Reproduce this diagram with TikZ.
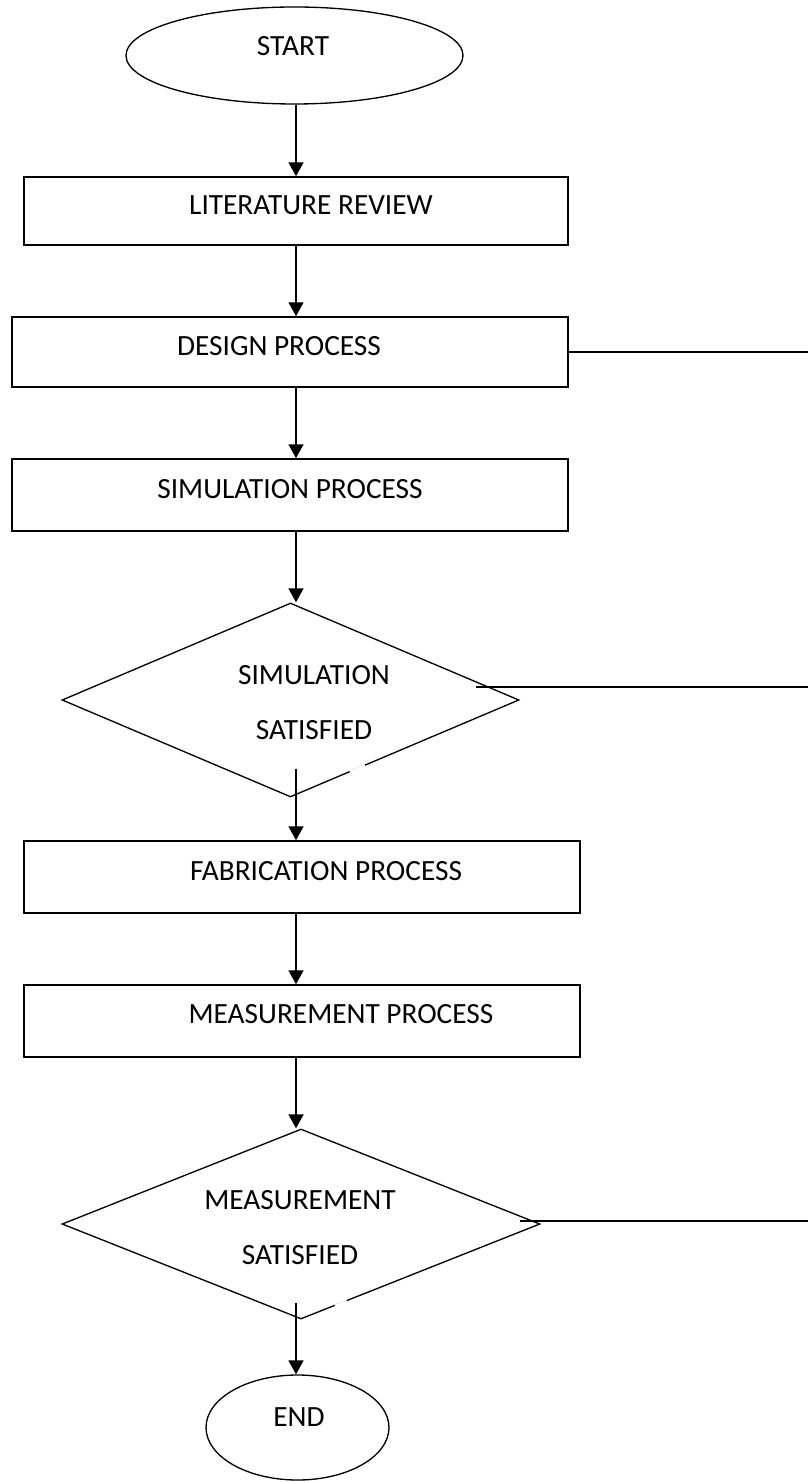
\documentclass[tikz,border=0pt]{standalone}
\usepackage{fontspec}
\setmainfont{Carlito}
\usetikzlibrary{shapes.geometric,arrows.meta,calc}
\newcommand{\px}{0.375pt}
\tikzset{
	flowbox/.style={draw, line width=0.6pt, inner sep=0pt},
	flowend/.style={draw, ellipse, line width=0.5pt, inner sep=0pt},
	flowtest/.style={draw, diamond, line width=0.5pt, inner sep=0pt},
	flowarrow/.style={line width=0.6pt, -{Triangle[length=5.2pt,width=5.6pt]}},
	flowline/.style={line width=0.6pt}
}

\begin{document}
\begin{tikzpicture}[x=\px,y=-\px,font=\fontsize{11}{13.2}\selectfont]
	\useasboundingbox (0,0) rectangle (808,1482);
	\coordinate (spine) at (296,0);
	\coordinate (rim) at (808,0);

	\node[flowend, minimum width=337*\px, minimum height=97*\px,
		label={[xshift=-1.5*\px, yshift=9.5*\px]center:START}] (start) at (294.5,55.5) {};
	\node[flowbox, minimum width=544*\px, minimum height=68*\px,
		label={[xshift=15*\px, yshift=6*\px]center:LITERATURE REVIEW}] (lr) at (296,211) {};
	\node[flowbox, minimum width=556*\px, minimum height=70*\px,
		label={[xshift=-11*\px, yshift=6*\px]center:DESIGN PROCESS}] (design) at (290,352) {};
	\node[flowbox, minimum width=556*\px, minimum height=72*\px,
		label={[yshift=6*\px]center:SIMULATION PROCESS}] (sim) at (290,495) {};
	\node[flowtest, minimum width=457*\px, minimum height=194*\px,
		label={[align=center, xshift=23.5*\px, yshift=-2.5*\px]center:{SIMULATION\\[7.4pt]SATISFIED}}] (simok) at (290.5,700) {};
	\node[flowbox, minimum width=556*\px, minimum height=72*\px,
		label={[xshift=24*\px, yshift=5.5*\px]center:FABRICATION PROCESS}] (fab) at (302,877) {};
	\node[flowbox, minimum width=556*\px, minimum height=72*\px,
		label={[xshift=39*\px, yshift=7*\px]center:MEASUREMENT PROCESS}] (meas) at (302,1021) {};
	\node[flowtest, minimum width=478*\px, minimum height=190*\px,
		label={[align=center, xshift=-1*\px, yshift=-4*\px]center:{MEASUREMENT\\[7.4pt]SATISFIED}}] (measok) at (301,1224) {};
	\node[flowend, minimum width=183*\px, minimum height=105*\px,
		label={[xshift=1.5*\px, yshift=10*\px]center:END}] (end) at (297.5,1427.5) {};

	% small breaks in the lower right edges
	\draw[white, line width=1.2pt] ($(simok.south)!0.26!(simok.east)$) -- ($(simok.south)!0.326!(simok.east)$);
	\draw[white, line width=1.2pt] ($(measok.south)!0.142!(measok.east)$) -- ($(measok.south)!0.192!(measok.east)$);

	\draw[flowarrow] (spine |- start.south) -- (spine |- lr.north);
	\draw[flowarrow] (spine |- lr.south) -- (spine |- design.north);
	\draw[flowarrow] (spine |- design.south) -- (spine |- sim.north);
	\draw[flowarrow] (spine |- sim.south) -- (spine |- simok.north);
	\draw[flowarrow] ($(spine |- simok.south)+(0,-29)$) -- (spine |- fab.north);
	\draw[flowarrow] (spine |- fab.south) -- (spine |- meas.north);
	\draw[flowarrow] (spine |- meas.south) -- (spine |- measok.north);
	\draw[flowarrow] ($(spine |- measok.south)+(0,-17)$) -- (spine |- end.north);

	\draw[flowline] (design.east) -- (design.east -| rim);
	\draw[flowline] ($(simok.east)+(-44,-13)$) coordinate (simtap) -- (simtap -| rim);
	\draw[flowline] ($(measok.east)+(-21,-3)$) coordinate (meastap) -- (meastap -| rim);
\end{tikzpicture}
\end{document}
